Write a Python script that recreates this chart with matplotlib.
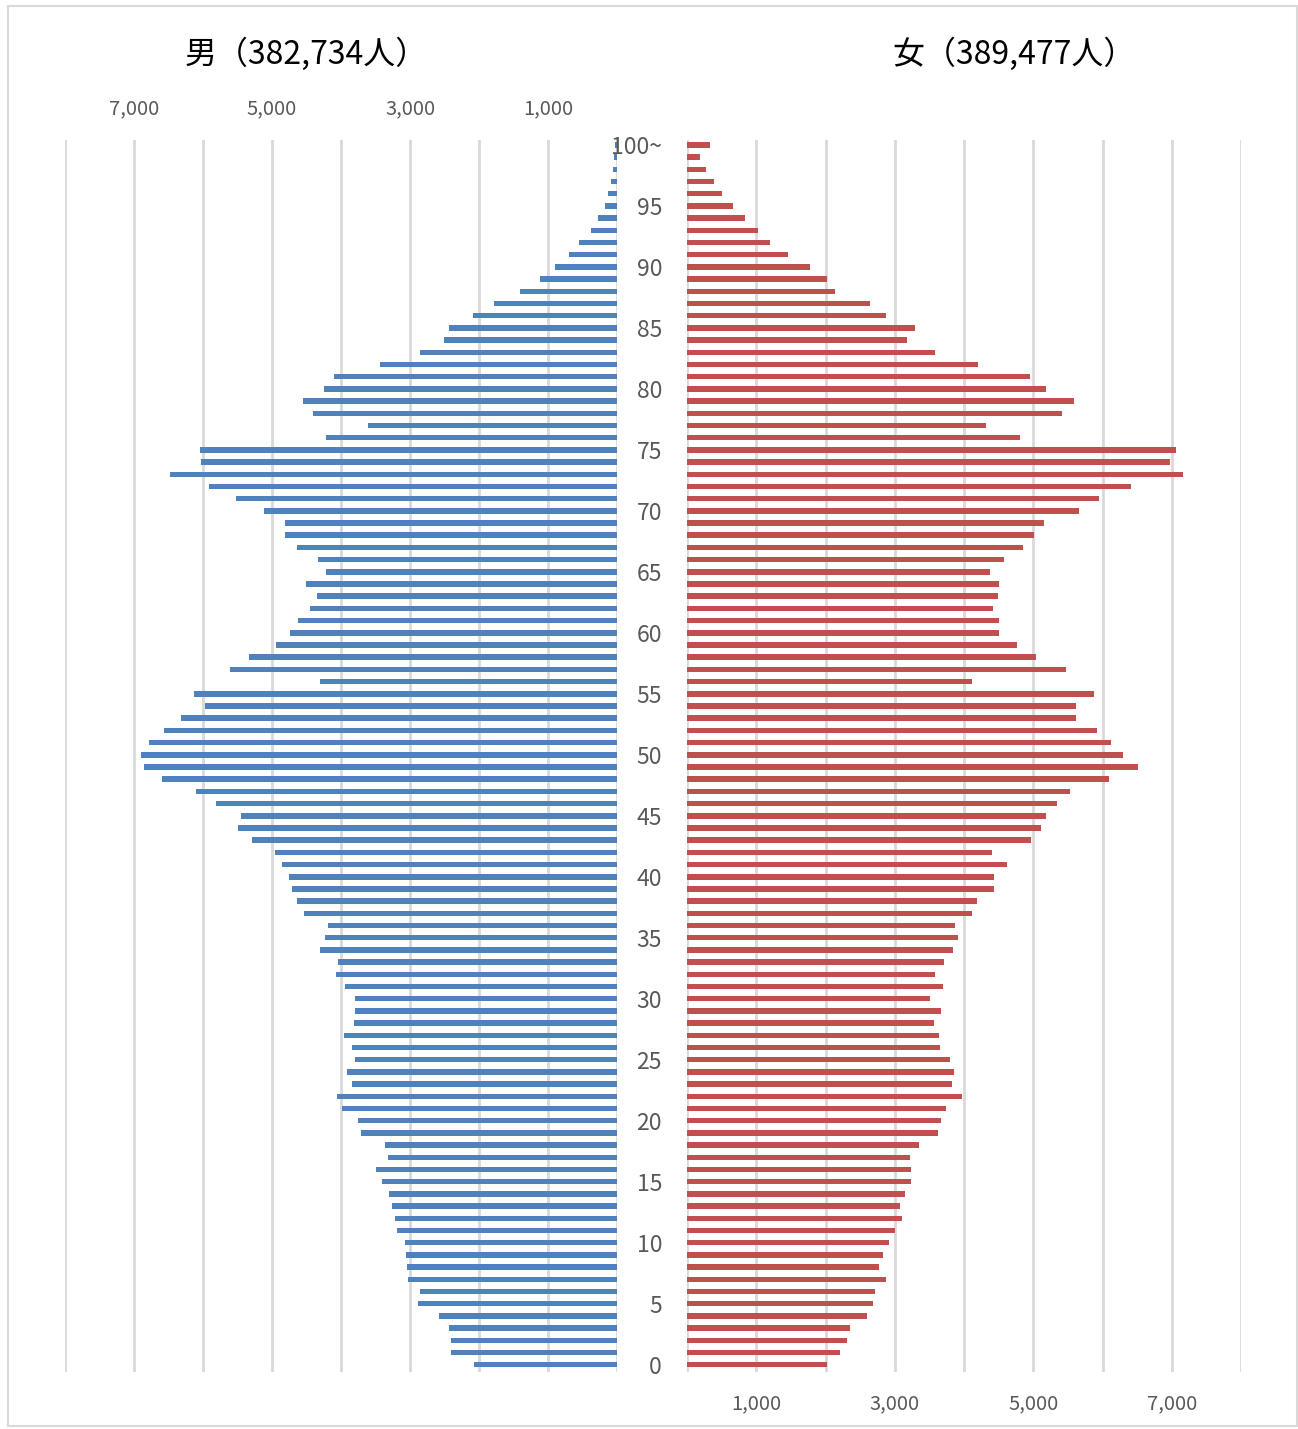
import matplotlib
matplotlib.use("Agg")
from matplotlib import pyplot as plt
from matplotlib.patches import Rectangle
import numpy as np

plt.rcParams['font.family'] = ['Noto Sans CJK JP', 'DejaVu Sans']

# ages 0 .. 100 (100 = "100~")
ages = np.arange(0, 101)

male = [
    2068, 2400, 2411, 2432, 2584, 2879, 2853, 3026, 3047, 3063,   # 0-9
    3068, 3195, 3216, 3258, 3311, 3400, 3489, 3326, 3368, 3705,   # 10-19
    3758, 3979, 4063, 3847, 3911, 3800, 3847, 3963, 3811, 3800,   # 20-29
    3805, 3937, 4079, 4037, 4311, 4237, 4189, 4532, 4637, 4705,   # 30-39
    4758, 4853, 4963, 5289, 5500, 5447, 5805, 6095, 6589, 6858,   # 40-49
    6905, 6779, 6568, 6316, 5974, 6126, 4311, 5616, 5337, 4937,   # 50-59
    4742, 4621, 4453, 4353, 4511, 4221, 4332, 4642, 4811, 4811,   # 60-69
    5116, 5516, 5911, 6474, 6032, 6047, 4216, 3611, 4405, 4558,   # 70-79
    4253, 4105, 3442, 2863, 2505, 2437, 2084, 1779, 1400, 1116,   # 80-89
    905, 695, 558, 384, 279, 168, 137, 95, 58, 40,                # 90-99
    25,                                                           # 100~
]

female = [
    2027, 2211, 2311, 2353, 2600, 2679, 2715, 2873, 2773, 2826,   # 0-9
    2920, 3009, 3109, 3078, 3151, 3235, 3235, 3214, 3351, 3619,   # 10-19
    3671, 3734, 3965, 3829, 3850, 3803, 3655, 3640, 3566, 3671,   # 20-29
    3514, 3703, 3582, 3718, 3839, 3913, 3876, 4118, 4191, 4438,   # 30-39
    4438, 4622, 4407, 4974, 5105, 5189, 5341, 5525, 6098, 6513,   # 40-49
    6292, 6129, 5919, 5614, 5614, 5882, 4112, 5467, 5042, 4758,   # 50-59
    4506, 4512, 4422, 4485, 4501, 4375, 4575, 4858, 5005, 5158,   # 60-69
    5667, 5951, 6418, 7164, 6980, 7054, 4806, 4322, 5410, 5583,   # 70-79
    5179, 4958, 4202, 3587, 3183, 3298, 2868, 2642, 2138, 2027,   # 80-89
    1780, 1455, 1203, 1029, 835, 667, 509, 394, 278, 194,         # 90-99
    336,                                                          # 100~
]

male_title = '男（382,734人）'
female_title = '女（389,477人）'

age_ticks = list(range(0, 100, 5)) + [100]
age_labels = [str(a) for a in range(0, 100, 5)] + ['100~']

grid_vals = list(range(0, 8001, 1000))
grid_labels = ['' if v % 2000 == 0 else f'{v:,}' for v in grid_vals]

blue = '#4F81BD'
red = '#C0504D'
grid_c = '#D9D9D9'
text_c = '#595959'

fig = plt.figure(figsize=(12.98, 14.29), dpi=100)

ax_m = fig.add_axes([0.0501, 0.0399, 0.4253, 0.8621])
ax_f = fig.add_axes([0.5293, 0.0399, 0.4268, 0.8621])

for ax in (ax_m, ax_f):
    ax.set_ylim(-0.6, 100.4)
    ax.set_xticks(grid_vals)
    ax.set_xticklabels(grid_labels)
    ax.grid(axis='x', color=grid_c, linewidth=2)
    ax.set_axisbelow(True)
    for s in ax.spines.values():
        s.set_visible(False)
    ax.tick_params(length=0, labelsize=14.5, labelcolor=text_c)

ax_m.barh(ages, male, height=0.45, color=blue)
ax_m.set_xlim(8000, 0)
ax_m.xaxis.tick_top()
ax_m.tick_params(axis='x', pad=15)
ax_m.set_yticks([])

ax_f.barh(ages, female, height=0.45, color=red)
ax_f.set_xlim(0, 8000)
ax_f.tick_params(axis='x', pad=15)
ax_f.set_yticks(age_ticks)
ax_f.set_yticklabels(age_labels)
ax_f.tick_params(axis='y', pad=18, labelsize=16.5)

fig.text(0.236, 0.962, male_title, ha='center', va='center', fontsize=23)
fig.text(0.781, 0.962, female_title, ha='center', va='center', fontsize=23)

fig.patches.append(Rectangle((0.006, 0.002), 0.993, 0.994, transform=fig.transFigure,
                             fill=False, edgecolor=grid_c, linewidth=1.5))

fig.savefig('out.png', dpi=100, facecolor='white')
